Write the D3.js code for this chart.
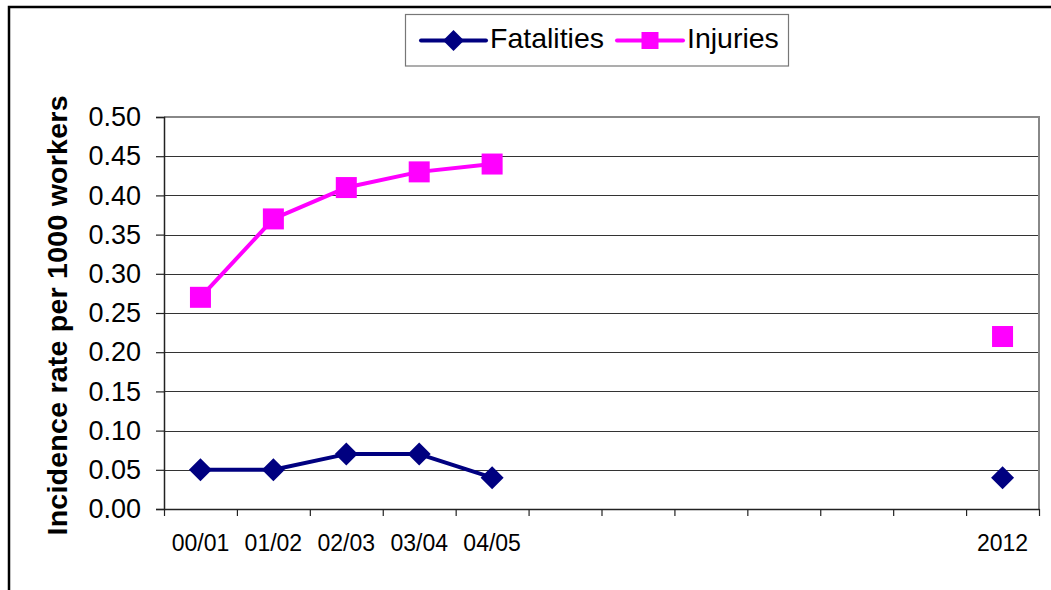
<!DOCTYPE html>
<html>
<head>
<meta charset="utf-8">
<script src="https://cdn.jsdelivr.net/npm/d3@7"></script>
<style>
  html, body { margin: 0; padding: 0; background: #fff; }
  svg { display: block; font-family: "Liberation Sans", Arial, sans-serif; }
</style>
</head>
<body>
<svg id="chart" width="1051" height="590"></svg>
<script>
// Period labels along the x axis (blank slots keep the gap before 2012)
const categories = ["00/01", "01/02", "02/03", "03/04", "04/05", "", "", "", "", "", "", "2012"];
// Incidence rate per 1000 workers; null where there is no value
const fatalities = [0.05, 0.05, 0.07, 0.07, 0.04, null, null, null, null, null, null, 0.04];
const injuries   = [0.27, 0.37, 0.41, 0.43, 0.44, null, null, null, null, null, null, 0.22];
const yTicks = [0.00, 0.05, 0.10, 0.15, 0.20, 0.25, 0.30, 0.35, 0.40, 0.45, 0.50];
const seriesNames = ["Fatalities", "Injuries"];
const yTitle = "Incidence rate per 1000 workers";

const navy = "#000080", magenta = "#ff00ff";

const svg = d3.select("#chart");
const plot = { left: 164, right: 1039, top: 117, bottom: 509 };

// Outer chart frame
svg.append("rect")
  .attr("x", 9).attr("y", 7).attr("width", 1200).attr("height", 800)
  .attr("fill", "#fff").attr("stroke", "#000").attr("stroke-width", 2.5);

const idx = d3.range(categories.length);
const x = d3.scaleBand().domain(idx).range([plot.left, plot.right]).padding(0);
const xEdge = d3.scaleLinear().domain([0, categories.length]).range([plot.left, plot.right]);
const y = d3.scaleLinear().domain([0, 0.5]).range([plot.bottom, plot.top]);
const cx = i => x(i) + x.bandwidth() / 2;

// Horizontal gridlines
svg.append("g")
  .selectAll("line")
  .data(yTicks.filter(v => v > 0 && v < 0.5))
  .join("line")
  .attr("x1", plot.left).attr("x2", plot.right)
  .attr("y1", d => Math.round(y(d)) + 0.5).attr("y2", d => Math.round(y(d)) + 0.5)
  .attr("stroke", "#333").attr("stroke-width", 1);

// Plot area border on the top and right sides
svg.append("path")
  .attr("d", `M${plot.left},${plot.top}H${plot.right}V${plot.bottom}`)
  .attr("fill", "none").attr("stroke", "#888").attr("stroke-width", 2);

// Y axis
const yAxis = svg.append("g")
  .attr("transform", `translate(${plot.left},0)`)
  .call(d3.axisLeft(y).tickValues(yTicks).tickFormat(d3.format(".2f")).tickSize(8).tickPadding(15));
yAxis.select(".domain").attr("stroke", "#222").attr("stroke-width", 1.5);
yAxis.selectAll(".tick line").attr("stroke", "#222").attr("stroke-width", 1.2);
yAxis.selectAll("text")
  .attr("font-size", 27).attr("fill", "#000")
  .attr("font-family", "'Liberation Sans', Arial, sans-serif");

// X axis: ticks at category boundaries
const xTickAxis = svg.append("g")
  .attr("transform", `translate(0,${plot.bottom})`)
  .call(d3.axisBottom(xEdge).tickValues(d3.range(categories.length + 1)).tickFormat("").tickSize(7).tickSizeOuter(0));
xTickAxis.select(".domain").attr("stroke", "#222").attr("stroke-width", 1.5);
xTickAxis.selectAll(".tick line").attr("stroke", "#222").attr("stroke-width", 1.2);

// X axis: category labels centred in each slot
const xLabelAxis = svg.append("g")
  .attr("transform", `translate(0,${plot.bottom})`)
  .call(d3.axisBottom(x).tickFormat(i => categories[i]).tickSize(0));
xLabelAxis.select(".domain").remove();
xLabelAxis.selectAll("text")
  .attr("y", 42).attr("dy", 0)
  .attr("font-size", 23).attr("fill", "#000")
  .attr("font-family", "'Liberation Sans', Arial, sans-serif");

// Axis title
svg.append("text")
  .attr("transform", `translate(67,${(plot.top + plot.bottom) / 2 + 2.5}) rotate(-90)`)
  .attr("text-anchor", "middle")
  .attr("font-size", 28.5).attr("font-weight", "bold")
  .attr("textLength", 440).attr("lengthAdjust", "spacing")
  .text(yTitle);

// Series lines
const line = d3.line()
  .defined(d => d.v != null)
  .x(d => cx(d.i)).y(d => y(d.v));
const toPts = arr => arr.map((v, i) => ({ i, v }));

svg.append("path").datum(toPts(injuries))
  .attr("d", line).attr("fill", "none")
  .attr("stroke", magenta).attr("stroke-width", 4).attr("stroke-linejoin", "round");
svg.append("path").datum(toPts(fatalities))
  .attr("d", line).attr("fill", "none")
  .attr("stroke", navy).attr("stroke-width", 4).attr("stroke-linejoin", "round");

// Markers
const diamond = s => `M0,${-s}L${s},0L0,${s}L${-s},0Z`;
svg.append("g").selectAll("rect")
  .data(toPts(injuries).filter(d => d.v != null))
  .join("rect")
  .attr("x", d => cx(d.i) - 10.5).attr("y", d => y(d.v) - 10.5)
  .attr("width", 21).attr("height", 21).attr("fill", magenta);
svg.append("g").selectAll("path")
  .data(toPts(fatalities).filter(d => d.v != null))
  .join("path")
  .attr("transform", d => `translate(${cx(d.i)},${y(d.v)})`)
  .attr("d", diamond(11.5)).attr("fill", navy);

// Legend
const legend = svg.append("g");
legend.append("rect")
  .attr("x", 405.5).attr("y", 14.5).attr("width", 383).attr("height", 51.5)
  .attr("fill", "#fff").attr("stroke", "#777").attr("stroke-width", 1.2);
const legendItems = [
  { name: seriesNames[0], color: navy, x0: 421, x1: 486, text: 490, marker: "diamond" },
  { name: seriesNames[1], color: magenta, x0: 617, x1: 683, text: 687, marker: "square" }
];
const ly = 40.5;
legendItems.forEach(it => {
  legend.append("line")
    .attr("x1", it.x0).attr("x2", it.x1).attr("y1", ly).attr("y2", ly)
    .attr("stroke", it.color).attr("stroke-width", 4).attr("stroke-linecap", "round");
  const mx = (it.x0 + it.x1) / 2;
  if (it.marker === "diamond") {
    legend.append("path").attr("transform", `translate(${mx},${ly})`)
      .attr("d", diamond(10.5)).attr("fill", it.color);
  } else {
    legend.append("rect").attr("x", mx - 8.5).attr("y", ly - 8.5)
      .attr("width", 17).attr("height", 17).attr("fill", it.color);
  }
  legend.append("text")
    .attr("x", it.text).attr("y", 47.5)
    .attr("font-size", 28.5).attr("fill", "#000")
    .text(it.name);
});
</script>
</body>
</html>
